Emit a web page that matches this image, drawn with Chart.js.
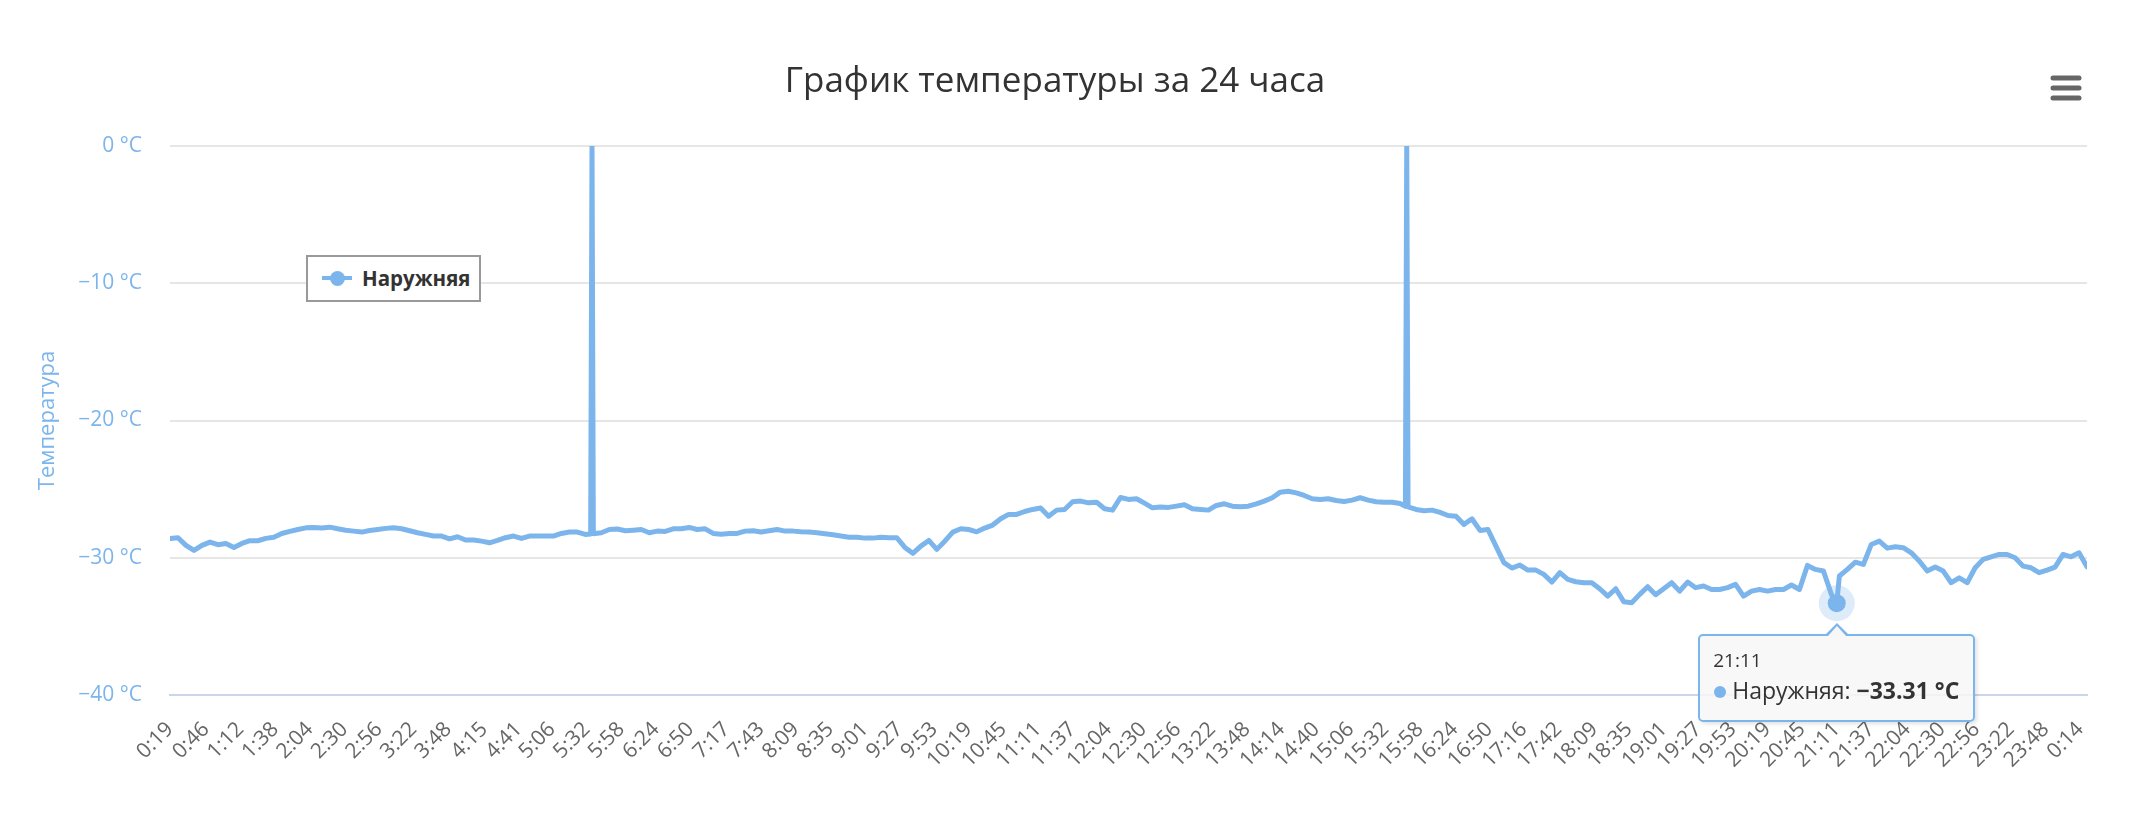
<!DOCTYPE html>
<html lang="ru">
<head>
<meta charset="utf-8">
<title>График температуры за 24 часа</title>
<script src="https://cdn.jsdelivr.net/npm/chart.js@4.4.1/dist/chart.umd.min.js"></script>
<style>
  html, body { margin: 0; padding: 0; background: #fff; }
  #wrap { position: relative; width: 2148px; height: 817px; overflow: hidden; font-family: 'Open Sans', sans-serif; }
  #tempChart { position: absolute; left: 0; top: 0; }
  #legend {
    position: absolute; left: 306px; top: 255px; width: 171px; height: 43px;
    border: 2px solid #999; background: #fff; color: #333;
    font-weight: bold; font-size: 20.5px; line-height: 43px; white-space: nowrap;
  }
  #legend .sym { position: absolute; left: 14px; top: 19px; width: 30px; height: 4px; }
  #legend .dot { position: absolute; left: 22px; top: 14px; width: 15px; height: 15px; border-radius: 50%; }
  #legend .txt { position: absolute; left: 54px; top: 0; }
  #tooltip {
    position: absolute; display: none; box-sizing: border-box;
    background: rgba(247,247,247,0.85); border: 2px solid #7cb5ec; border-radius: 5px;
    box-shadow: 2px 2px 4px rgba(0,0,0,0.12);
    padding: 11px 14px 13px 13px; color: #333; white-space: nowrap;
  }
  #tooltip::before {
    content: ''; position: absolute; left: 50%; top: -13px; margin-left: -12px;
    border-left: 12px solid transparent; border-right: 12px solid transparent; border-bottom: 12px solid #7cb5ec;
  }
  #tooltip::after {
    content: ''; position: absolute; left: 50%; top: -10px; margin-left: -10px;
    border-left: 10px solid transparent; border-right: 10px solid transparent; border-bottom: 11px solid #f7f7f7;
  }
  #tooltip .tt-title { font-size: 19px; line-height: 27px; }
  #tooltip .tt-body { font-size: 23px; line-height: 33px; }
  #tooltip .bullet { display: inline-block; width: 12px; height: 12px; border-radius: 50%; margin: 0 6px 2px 1px; vertical-align: middle; }
</style>
</head>
<body>
<div id="wrap">
  <canvas id="tempChart" width="2148" height="817"></canvas>
  <div id="legend"></div>
  <div id="tooltip"></div>
</div>
<script>
const chartTitle = 'График температуры за 24 часа';
const seriesName = 'Наружняя';
const axisTitle = 'Температура';
const lineColor = '#7cb5ec';

// x axis labels as shown on the chart
const tickLabels = ['0:19', '0:46', '1:12', '1:38', '2:04', '2:30', '2:56', '3:22', '3:48', '4:15',
  '4:41', '5:06', '5:32', '5:58', '6:24', '6:50', '7:17', '7:43', '8:09', '8:35',
  '9:01', '9:27', '9:53', '10:19', '10:45', '11:11', '11:37', '12:04', '12:30', '12:56',
  '13:22', '13:48', '14:14', '14:40', '15:06', '15:32', '15:58', '16:24', '16:50', '17:16',
  '17:42', '18:09', '18:35', '19:01', '19:27', '19:53', '20:19', '20:45', '21:11', '21:37',
  '22:04', '22:30', '22:56', '23:22', '23:48', '0:14'];

const yTicks = [0, -10, -20, -30, -40];

// readings every 6 minutes starting at 0:19
const sampleStart = '0:19';
const sampleStep = 6;
const temps = [
  -28.59, -28.54, -29.10, -29.47, -29.10, -28.86, -29.05, -28.96, -29.25, -28.96,
  -28.76, -28.76, -28.59, -28.50, -28.23, -28.08, -27.94, -27.82, -27.79, -27.84,
  -27.77, -27.89, -27.99, -28.06, -28.13, -28.01, -27.94, -27.86, -27.82, -27.89,
  -28.03, -28.18, -28.30, -28.42, -28.42, -28.62, -28.47, -28.71, -28.71, -28.79,
  -28.91, -28.74, -28.54, -28.42, -28.59, -28.42, -28.42, -28.42, -28.42, -28.23,
  -28.13, -28.13, -28.30, -28.25, -28.18, -27.94, -27.91, -28.03, -27.99, -27.94,
  -28.18, -28.06, -28.08, -27.89, -27.89, -27.79, -27.94, -27.89, -28.23, -28.28,
  -28.23, -28.23, -28.06, -28.03, -28.13, -28.03, -27.94, -28.06, -28.06, -28.11,
  -28.13, -28.18, -28.25, -28.33, -28.42, -28.50, -28.50, -28.57, -28.57, -28.50,
  -28.54, -28.54, -29.25, -29.68, -29.15, -28.74, -29.39, -28.79, -28.13, -27.89,
  -27.94, -28.11, -27.84, -27.62, -27.16, -26.84, -26.84, -26.63, -26.48, -26.38,
  -26.97, -26.53, -26.48, -25.92, -25.87, -26.00, -25.95, -26.43, -26.53, -25.61,
  -25.75, -25.70, -26.02, -26.36, -26.31, -26.33, -26.24, -26.14, -26.43, -26.48,
  -26.53, -26.19, -26.07, -26.24, -26.29, -26.24, -26.07, -25.87, -25.63, -25.22,
  -25.15, -25.27, -25.46, -25.70, -25.75, -25.70, -25.83, -25.90, -25.80, -25.63,
  -25.80, -25.92, -25.95, -25.95, -26.05, -26.29, -26.48, -26.58, -26.53, -26.70,
  -26.92, -26.97, -27.57, -27.16, -28.01, -27.94, -29.15, -30.36, -30.75, -30.53,
  -30.90, -30.90, -31.21, -31.77, -31.09, -31.58, -31.75, -31.82, -31.82, -32.26,
  -32.79, -32.26, -33.20, -33.28, -32.67, -32.11, -32.69, -32.26, -31.82, -32.43,
  -31.77, -32.18, -32.06, -32.31, -32.31, -32.18, -31.94, -32.79, -32.43, -32.31,
  -32.43, -32.31, -32.31, -31.99, -32.31, -30.56, -30.85, -30.97, -32.67, -31.33,
  -30.85, -30.32, -30.49, -29.03, -28.79, -29.30, -29.20, -29.27, -29.64, -30.24,
  -30.97, -30.68, -30.97, -31.82, -31.46, -31.82, -30.73, -30.12, -29.93, -29.76,
  -29.76, -30.00, -30.61, -30.73, -31.09, -30.90, -30.68, -29.76, -29.93, -29.64,
  -30.66
];

// single readings between the regular ones (two sensor glitches and the hovered point)
const extraTimes = ['5:35', '5:36', '15:47', '15:48', '21:11'];
const extraTemps = [-28.27, 0, -26.26, 0, -33.31];
const hoverTime = '21:11';

function toMinutes(hm) {
  const parts = hm.split(':').map(Number);
  return parts[0] * 60 + parts[1];
}
function pad2(n) { return (n < 10 ? '0' : '') + n; }
function formatTime(min) {
  return (Math.floor(min / 60) % 24) + ':' + pad2(Math.round(min % 60));
}
function minus(v) { return v < 0 ? '\u2212' + Math.abs(v) : String(v); }
function formatTemp(v) {
  return (v < 0 ? '\u2212' : '') + Math.abs(v).toFixed(2) + ' °C';
}

// tick positions in minutes, the last label is after midnight
const tickMinutes = [];
tickLabels.forEach(function(lbl, i) {
  let m = toMinutes(lbl);
  if (i > 0 && m < tickMinutes[i - 1]) m += 1440;
  tickMinutes.push(m);
});

const startMin = toMinutes(sampleStart);
let points = temps.map(function(t, k) {
  return {x: startMin + k * sampleStep, y: t};
});
extraTimes.forEach(function(tm, i) {
  points.push({x: toMinutes(tm), y: extraTemps[i]});
});
points.sort(function(a, b) { return a.x - b.x; });
const hoverIndex = points.findIndex(function(p) { return p.x === toMinutes(hoverTime); });
const endMin = points[points.length - 1].x;

function externalTooltip(context) {
  const tt = context.tooltip;
  const el = document.getElementById('tooltip');
  if (tt.opacity === 0 || !tt.dataPoints || !tt.dataPoints.length) {
    el.style.display = 'none';
    return;
  }
  const p = tt.dataPoints[0];
  el.innerHTML = '<div class="tt-title">' + formatTime(p.parsed.x) + '</div>' +
    '<div class="tt-body"><span class="bullet" style="background:' + p.dataset.borderColor + '"></span>' +
    p.dataset.label + ': <b>' + formatTemp(p.parsed.y) + '</b></div>';
  el.style.display = 'block';
  el.style.left = (tt.caretX - el.offsetWidth / 2) + 'px';
  el.style.top = (tt.caretY + 31) + 'px';
}

const hoverHalo = {
  id: 'hoverHalo',
  afterDatasetsDraw(chart) {
    const ctx = chart.ctx;
    chart.getActiveElements().forEach(function(a) {
      ctx.save();
      ctx.fillStyle = 'rgba(124,181,236,0.25)';
      ctx.beginPath();
      ctx.arc(a.element.x, a.element.y, 18, 0, Math.PI * 2);
      ctx.fill();
      ctx.restore();
    });
  }
};

// the export menu button in the top right corner
const menuIcon = {
  id: 'menuIcon',
  afterDraw(chart) {
    const ctx = chart.ctx;
    ctx.save();
    ctx.strokeStyle = '#666666';
    ctx.lineWidth = 5;
    ctx.lineCap = 'round';
    [78, 88, 98].forEach(function(y) {
      ctx.beginPath();
      ctx.moveTo(2053, y);
      ctx.lineTo(2079, y);
      ctx.stroke();
    });
    ctx.restore();
  }
};

Chart.defaults.font.family = "'Open Sans', sans-serif";

const ctx = document.getElementById('tempChart');
const chart = new Chart(ctx, {
  type: 'line',
  data: {
    datasets: [{
      label: seriesName,
      data: points,
      borderColor: lineColor,
      backgroundColor: lineColor,
      borderWidth: 5,
      borderJoinStyle: 'round',
      borderCapStyle: 'round',
      tension: 0,
      fill: false,
      pointRadius: 0,
      pointHoverRadius: 9,
      pointHoverBorderWidth: 0,
      pointHoverBackgroundColor: lineColor
    }]
  },
  options: {
    responsive: false,
    animation: false,
    events: [],
    layout: {padding: {left: 23, right: 61, top: 0, bottom: 0}},
    plugins: {
      legend: {display: false},
      title: {
        display: true,
        text: chartTitle,
        color: '#333333',
        font: {size: 35, weight: 'normal'},
        padding: {top: 61, bottom: 43}
      },
      tooltip: {enabled: false, external: externalTooltip}
    },
    scales: {
      x: {
        type: 'linear',
        min: startMin,
        max: endMin,
        grid: {display: false},
        border: {display: true, color: '#ccd6eb', width: 2},
        afterBuildTicks: function(scale) {
          scale.ticks = tickMinutes.map(function(v) { return {value: v}; });
        },
        afterFit: function(scale) { scale.height = 122; },
        ticks: {
          autoSkip: false,
          minRotation: 45,
          maxRotation: 45,
          padding: 14,
          color: '#666666',
          font: {size: 21},
          callback: function(value, index) { return tickLabels[index]; }
        }
      },
      y: {
        type: 'linear',
        min: -40,
        max: 0,
        border: {display: false},
        grid: {
          drawTicks: false,
          lineWidth: 2,
          color: function(c) { return c.tick && c.tick.value === -40 ? '#ccd6eb' : '#e6e6e6'; }
        },
        afterBuildTicks: function(scale) {
          scale.ticks = yTicks.map(function(v) { return {value: v}; });
        },
        afterFit: function(scale) { scale.width = 147; },
        ticks: {
          padding: 28,
          color: lineColor,
          font: {size: 21},
          callback: function(value) { return minus(value) + ' °C'; }
        },
        title: {
          display: true,
          text: axisTitle,
          color: lineColor,
          font: {size: 22},
          padding: {top: 12, bottom: 0}
        }
      }
    }
  },
  plugins: [hoverHalo, menuIcon]
});

// html legend built from the datasets
document.getElementById('legend').innerHTML = chart.data.datasets.map(function(ds) {
  return '<span class="sym" style="background:' + ds.borderColor + '"></span>' +
    '<span class="dot" style="background:' + ds.borderColor + '"></span>' +
    '<span class="txt">' + ds.label + '</span>';
}).join('');

// show the hovered reading as in the screenshot
const active = [{datasetIndex: 0, index: hoverIndex}];
chart.setActiveElements(active);
chart.update();
const el = chart.getDatasetMeta(0).data[hoverIndex];
chart.tooltip.setActiveElements(active, {x: el.x, y: el.y});
chart.update();
</script>
</body>
</html>
